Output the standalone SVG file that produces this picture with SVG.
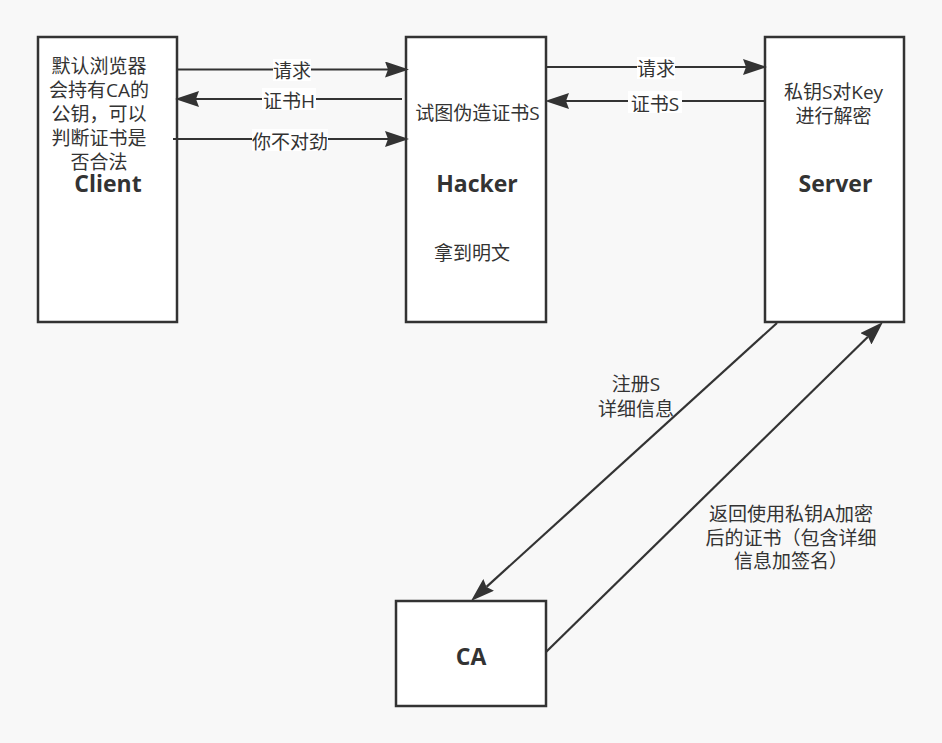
<svg xmlns="http://www.w3.org/2000/svg" width="942" height="743" viewBox="0 0 942 743">
<defs>
<style>
.box{fill:#ffffff;stroke:#333333;stroke-width:2.5}
.t{font-family:"Open Sans","Noto Sans CJK SC",sans-serif;font-size:19px;fill:#333333;text-anchor:middle}
.b{font-family:"Open Sans","Noto Sans CJK SC",sans-serif;font-size:23px;font-weight:bold;fill:#333333;text-anchor:middle}
.ln{fill:none;stroke:#333333;stroke-width:2.2;marker-end:url(#arr)}
.lbg{fill:#ffffff}
</style>
<marker id="arr" markerUnits="userSpaceOnUse" markerWidth="24" markerHeight="16" viewBox="0 0 24 16" refX="3" refY="8" orient="auto">
<path d="M24,8 L0,0 L3,8 L0,16 Z" fill="#333333"/>
</marker>
</defs>
<rect x="0" y="0" width="942" height="743" fill="#f8f8f8"/>

<g id="client">
<rect class="box" x="38" y="37" width="139" height="285"/>
<text class="t" x="99" y="73">默认浏览器</text>
<text class="t" x="99" y="97">会持有CA的</text>
<text class="t" x="99" y="121">公钥，可以</text>
<text class="t" x="99" y="145">判断证书是</text>
<text class="t" x="99" y="169">否合法</text>
<text class="b" x="108" y="191.5">Client</text>
</g>

<g id="hacker">
<rect class="box" x="406" y="37" width="140" height="285"/>
<text class="t" x="477.5" y="120">试图伪造证书S</text>
<text class="b" x="477" y="191.5">Hacker</text>
<text class="t" x="472" y="259.5">拿到明文</text>
</g>

<g id="server">
<rect class="box" x="765" y="37" width="139" height="285"/>
<text class="t" x="833.5" y="98.5">私钥S对Key</text>
<text class="t" x="833.5" y="122.5">进行解密</text>
<text class="b" x="835.5" y="191.5">Server</text>
</g>

<g id="ca">
<rect class="box" x="396" y="601" width="150" height="105"/>
<text class="b" x="471" y="665">CA</text>
</g>

<g id="connectors">
<path class="ln" d="M177,69.5 H388"/>
<rect class="lbg" x="273" y="59" width="38" height="22"/>
<text class="t" x="292" y="78">请求</text>

<path class="ln" d="M402,99 H196"/>
<rect class="lbg" x="262" y="88" width="54" height="22"/>
<text class="t" x="289" y="108">证书H</text>

<path class="ln" d="M173,139 H388"/>
<rect class="lbg" x="252" y="129" width="76" height="22"/>
<text class="t" x="290" y="149">你不对劲</text>

<path class="ln" d="M546,67 H746"/>
<rect class="lbg" x="637" y="57" width="38" height="22"/>
<text class="t" x="656" y="76">请求</text>

<path class="ln" d="M765,101 H566"/>
<rect class="lbg" x="628" y="91" width="54" height="22"/>
<text class="t" x="655" y="110.5">证书S</text>

<path class="ln" d="M777,323 L486.5,586.9"/>
<text class="t" x="636" y="391">注册S</text>
<text class="t" x="636" y="416">详细信息</text>

<path class="ln" d="M546,652 L868,336.7"/>
<text class="t" x="791" y="521">返回使用私钥A加密</text>
<text class="t" x="791" y="544.5">后的证书（包含详细</text>
<text class="t" x="791" y="568">信息加签名）</text>
</g>
</svg>
